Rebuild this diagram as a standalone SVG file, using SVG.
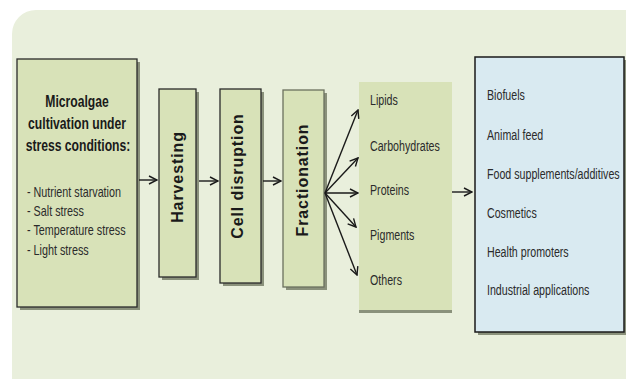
<svg xmlns="http://www.w3.org/2000/svg" width="626" height="379" viewBox="0 0 626 379">
<defs>
<marker id="arr" viewBox="0 0 10 10" refX="9" refY="5" markerWidth="10" markerHeight="10" markerUnits="userSpaceOnUse" orient="auto">
<path d="M1,1 L9,5 L1,9" fill="none" stroke="#1a1a1a" stroke-width="1.4"/>
</marker>
<style>
.bg{fill:#e9efdc}
.box{fill:#d8e2b8;stroke:#2a2a2a;stroke-width:1.3}
.sh{fill:#8a917b}
.blue{fill:#d9eaf1;stroke:#1a1a1a;stroke-width:1.5}
.t{font-family:"Liberation Sans",Arial,sans-serif;font-size:14.5px;fill:#2b2b2b;transform-box:fill-box;transform-origin:0 50%;transform:scaleX(0.735)}
.l{font-family:"Liberation Sans",Arial,sans-serif;font-size:14px;fill:#2b2b2b;transform-box:fill-box;transform-origin:0 50%;transform:scaleX(0.77)}
.tb{font-family:"Liberation Sans",Arial,sans-serif;font-size:16px;font-weight:bold;fill:#1a1a1a;text-anchor:middle;transform-box:fill-box;transform-origin:50% 50%;transform:scaleX(0.76)}
.v{font-family:"Liberation Sans",Arial,sans-serif;font-size:16px;font-weight:bold;fill:#1a1a1a;text-anchor:middle;letter-spacing:0.9px}
.c{stroke:#1a1a1a;stroke-width:1.4;fill:none;marker-end:url(#arr)}
</style>
</defs>
<rect class="bg" x="12" y="10" width="640" height="400" rx="24"/>
<g id="cultivation">
<rect class="sh" x="20" y="62" width="120" height="248"/>
<rect class="box" x="17" y="59" width="120" height="248"/>
<text class="tb" x="77" y="107">Microalgae</text>
<text class="tb" x="77" y="129">cultivation under</text>
<text class="tb" x="78" y="151">stress conditions:</text>
<text class="l" x="27" y="197">- Nutrient starvation</text>
<text class="l" x="27" y="216">- Salt stress</text>
<text class="l" x="27" y="235">- Temperature stress</text>
<text class="l" x="27" y="255">- Light stress</text>
</g>
<g id="harvesting">
<rect class="sh" x="162" y="92" width="37" height="188"/>
<rect class="box" x="159" y="89" width="37" height="188"/>
<text class="v" transform="translate(183,177) rotate(-90)">Harvesting</text>
</g>
<g id="cell-disruption">
<rect class="sh" x="223" y="92" width="41" height="194"/>
<rect class="box" x="220" y="89" width="41" height="194"/>
<text class="v" transform="translate(243,176) rotate(-90)">Cell disruption</text>
</g>
<g id="fractionation">
<rect class="sh" x="286" y="93" width="41" height="197"/>
<rect class="box" x="283" y="90" width="41" height="197" style="stroke:#6b705e"/>
<text class="v" transform="translate(308,180) rotate(-90)">Fractionation</text>
</g>
<g id="products">
<rect class="sh" x="359" y="85" width="93" height="228"/>
<rect x="359" y="82" width="93" height="228" fill="#d8e2b8"/>
<text class="t" x="370" y="105">Lipids</text>
<text class="t" x="370" y="151">Carbohydrates</text>
<text class="t" x="370" y="195">Proteins</text>
<text class="t" x="370" y="240">Pigments</text>
<text class="t" x="370" y="285">Others</text>
</g>
<g id="applications">
<rect class="sh" x="478" y="60" width="150" height="275"/>
<rect class="blue" x="475" y="57" width="149" height="275"/>
<text class="t" x="487" y="100">Biofuels</text>
<text class="t" x="487" y="140">Animal feed</text>
<text class="t" x="487" y="179">Food supplements/additives</text>
<text class="t" x="487" y="218">Cosmetics</text>
<text class="t" x="487" y="257">Health promoters</text>
<text class="t" x="487" y="295">Industrial applications</text>
</g>
<g id="connectors">
<line class="c" x1="139" y1="180" x2="157" y2="180"/>
<line class="c" x1="199" y1="181" x2="218" y2="181"/>
<line class="c" x1="263" y1="181" x2="281" y2="181"/>
<line class="c" x1="325" y1="193" x2="358" y2="110"/>
<line class="c" x1="325" y1="193" x2="358" y2="158"/>
<line class="c" x1="325" y1="193" x2="358" y2="193"/>
<line class="c" x1="325" y1="193" x2="356" y2="227"/>
<line class="c" x1="325" y1="193" x2="357" y2="275"/>
<line class="c" x1="452" y1="192" x2="472" y2="192"/>
</g>
</svg>
